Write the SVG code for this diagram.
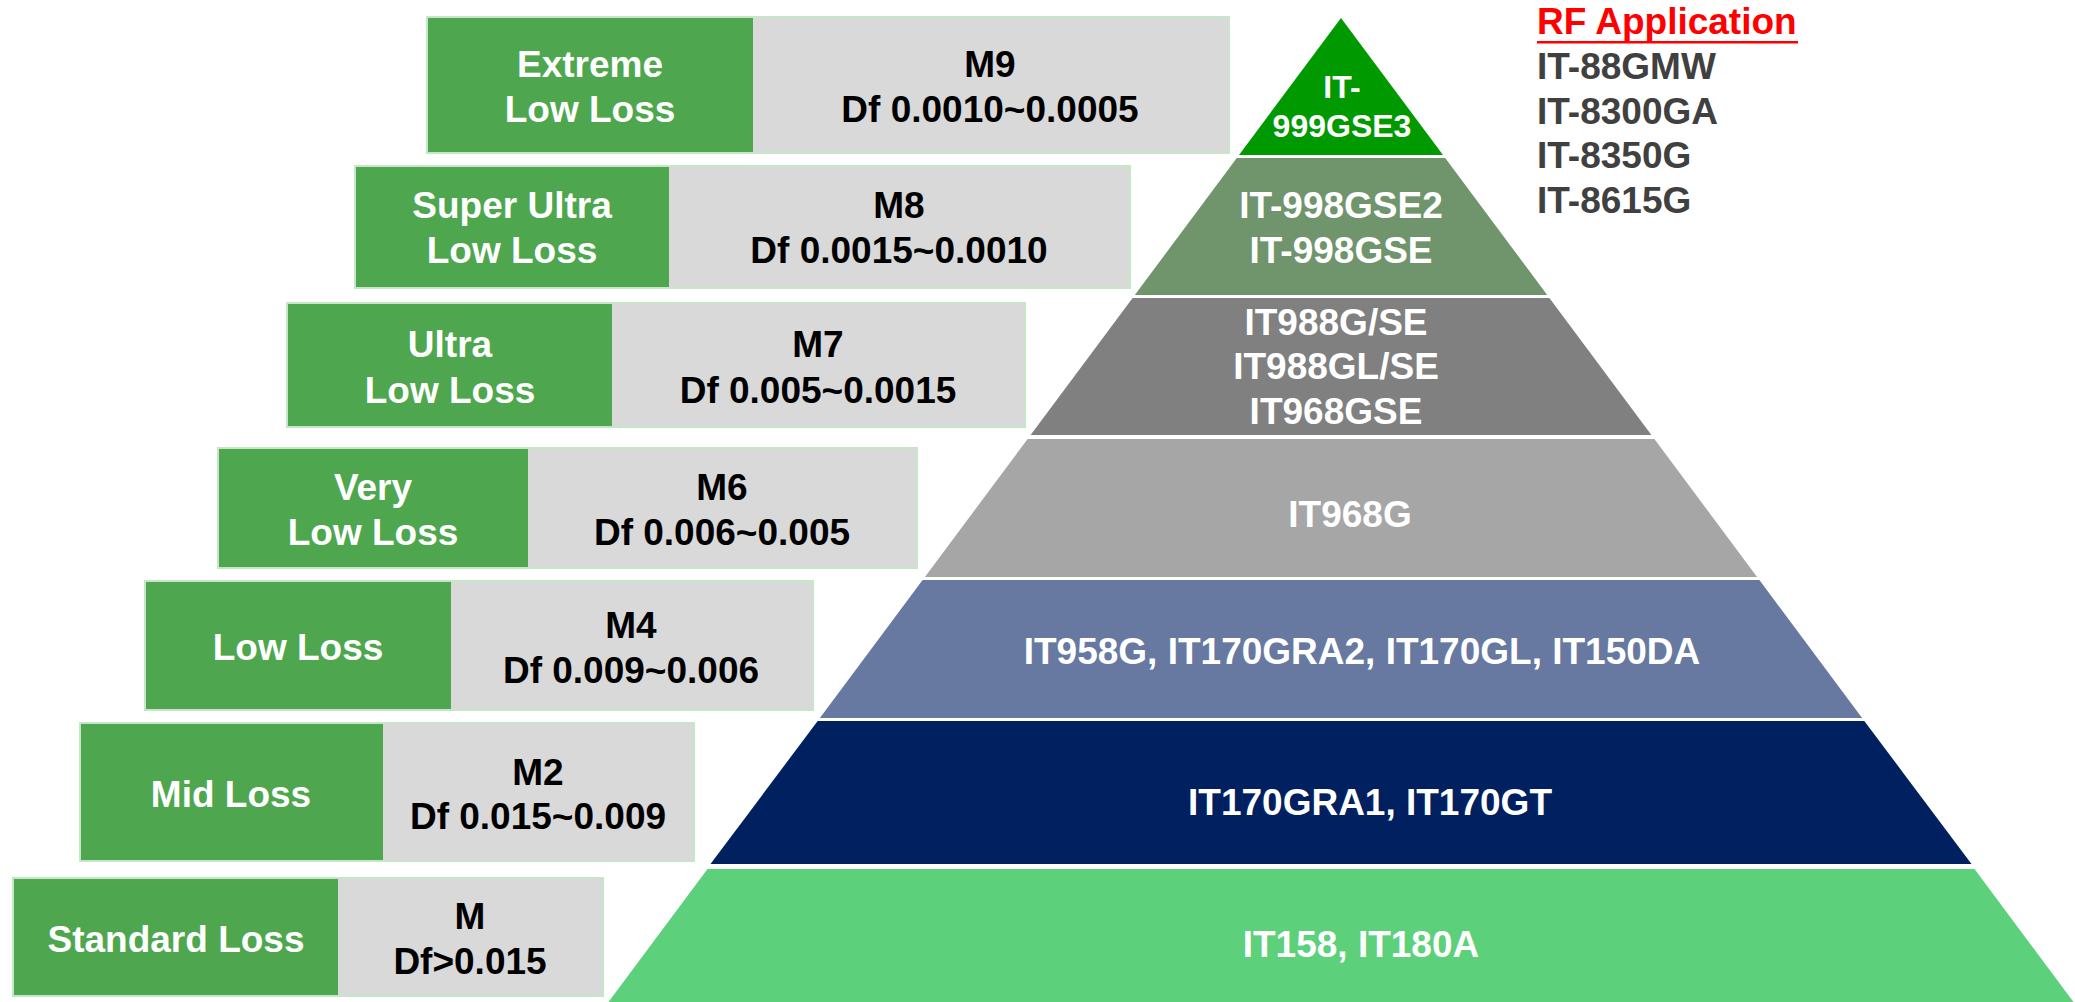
<svg xmlns="http://www.w3.org/2000/svg" width="2075" height="1002" viewBox="0 0 2075 1002">
<style>
  text { font-family: "Liberation Sans", Arial, sans-serif; font-weight: bold; font-size: 37px; text-anchor: middle; }
  .w { fill: #ffffff; }
  .k { fill: #000000; }
  .frame { fill: none; stroke: #c6e6c8; stroke-width: 2; }
  .gr { fill: #4ea74f; }
  .gy { fill: #d9d9d9; }
  .rf { fill: #404040; text-anchor: start; }
</style>
<rect width="2075" height="1002" fill="#ffffff"/>

<g id="row-m9">
  <rect class="gr" x="428" y="18" width="325" height="134"/>
  <rect class="gy" x="753" y="18" width="475" height="134"/>
  <rect class="frame" x="427" y="17" width="802" height="136"/>
  <text class="w" x="590" y="77">Extreme</text>
  <text class="w" x="590" y="122">Low Loss</text>
  <text class="k" x="990" y="77">M9</text>
  <text class="k" x="990" y="122">Df 0.0010~0.0005</text>
</g>
<g id="row-m8">
  <rect class="gr" x="356" y="167" width="313" height="120"/>
  <rect class="gy" x="669" y="167" width="460" height="120"/>
  <rect class="frame" x="355" y="166" width="775" height="122"/>
  <text class="w" x="512" y="218">Super Ultra</text>
  <text class="w" x="512" y="263">Low Loss</text>
  <text class="k" x="899" y="218">M8</text>
  <text class="k" x="899" y="263">Df 0.0015~0.0010</text>
</g>
<g id="row-m7">
  <rect class="gr" x="288" y="304" width="324" height="122"/>
  <rect class="gy" x="612" y="304" width="412" height="122"/>
  <rect class="frame" x="287" y="303" width="738" height="124"/>
  <text class="w" x="450" y="357">Ultra</text>
  <text class="w" x="450" y="403">Low Loss</text>
  <text class="k" x="818" y="357">M7</text>
  <text class="k" x="818" y="403">Df 0.005~0.0015</text>
</g>
<g id="row-m6">
  <rect class="gr" x="219" y="449" width="309" height="118"/>
  <rect class="gy" x="528" y="449" width="388" height="118"/>
  <rect class="frame" x="218" y="448" width="699" height="120"/>
  <text class="w" x="373" y="500">Very</text>
  <text class="w" x="373" y="545">Low Loss</text>
  <text class="k" x="722" y="500">M6</text>
  <text class="k" x="722" y="545">Df 0.006~0.005</text>
</g>
<g id="row-m4">
  <rect class="gr" x="146" y="582" width="305" height="127"/>
  <rect class="gy" x="451" y="582" width="361" height="127"/>
  <rect class="frame" x="145" y="581" width="668" height="129"/>
  <text class="w" x="298" y="660">Low Loss</text>
  <text class="k" x="631" y="638">M4</text>
  <text class="k" x="631" y="683">Df 0.009~0.006</text>
</g>
<g id="row-m2">
  <rect class="gr" x="81" y="724" width="302" height="136"/>
  <rect class="gy" x="383" y="724" width="310" height="136"/>
  <rect class="frame" x="80" y="723" width="614" height="138"/>
  <text class="w" x="231" y="807">Mid Loss</text>
  <text class="k" x="538" y="785">M2</text>
  <text class="k" x="538" y="829">Df 0.015~0.009</text>
</g>
<g id="row-m">
  <rect class="gr" x="14" y="879" width="324" height="116"/>
  <rect class="gy" x="338" y="879" width="264" height="116"/>
  <rect class="frame" x="13" y="878" width="590" height="118"/>
  <text class="w" x="176" y="952">Standard Loss</text>
  <text class="k" x="470" y="929">M</text>
  <text class="k" x="470" y="974">Df&gt;0.015</text>
</g>

<g id="pyr-1">
  <polygon points="1341,18 1443,155 1239,155" fill="#009900"/>
  <text class="w" x="1342" y="98" style="font-size:32px">IT-</text>
  <text class="w" x="1342" y="137" style="font-size:32px">999GSE3</text>
</g>
<g id="pyr-2">
  <polygon points="1236.8,158 1445.2,158 1547.2,295 1134.8,295" fill="#70946c"/>
  <text class="w" x="1341" y="218">IT-998GSE2</text>
  <text class="w" x="1341" y="263">IT-998GSE</text>
</g>
<g id="pyr-3">
  <polygon points="1132.6,298 1549.4,298 1651.4,435 1030.6,435" fill="#808080"/>
  <text class="w" x="1336" y="335">IT988G/SE</text>
  <text class="w" x="1336" y="379">IT988GL/SE</text>
  <text class="w" x="1336" y="424">IT968GSE</text>
</g>
<g id="pyr-4">
  <polygon points="1027.6,439 1654.4,439 1757.1,577 924.9,577" fill="#a6a6a6"/>
  <text class="w" x="1350" y="527">IT968G</text>
</g>
<g id="pyr-5">
  <polygon points="922.6,580 1759.4,580 1862.1,718 819.9,718" fill="#6779a1"/>
  <text class="w" x="1362" y="664">IT958G, IT170GRA2, IT170GL, IT150DA</text>
</g>
<g id="pyr-6">
  <polygon points="817.7,721 1864.3,721 1971.5,864 710.5,864" fill="#002060"/>
  <text class="w" x="1370" y="815">IT170GRA1, IT170GT</text>
</g>
<g id="pyr-7">
  <polygon points="707.5,869 1974.5,869 2073.5,1002 608.5,1002" fill="#5dd07b"/>
  <text class="w" x="1361" y="957">IT158, IT180A</text>
</g>

<g id="rf-application">
  <text x="1537" y="34" style="fill:#ff0000;text-anchor:start">RF Application</text>
  <rect x="1537" y="41" width="261" height="2.5" fill="#ff0000"/>
  <text class="rf" x="1537" y="79">IT-88GMW</text>
  <text class="rf" x="1537" y="124">IT-8300GA</text>
  <text class="rf" x="1537" y="168">IT-8350G</text>
  <text class="rf" x="1537" y="213">IT-8615G</text>
</g>

<g id="connectors"></g>
</svg>
